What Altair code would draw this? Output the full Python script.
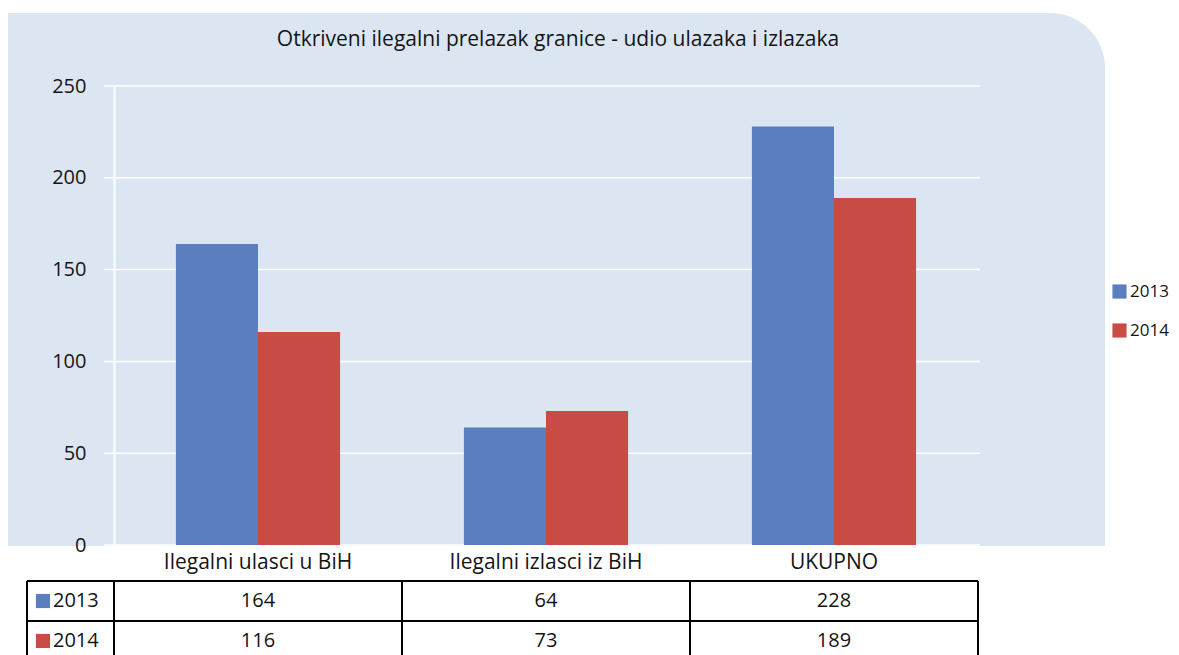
import altair as alt
import pandas as pd

# ---------------- data ----------------
categories = ["Ilegalni ulasci u BiH", "Ilegalni izlasci iz BiH", "UKUPNO"]
years = ["2013", "2014"]
values_2013 = [164, 64, 228]
values_2014 = [116, 73, 189]
y_ticks = [0, 50, 100, 150, 200, 250]
title_text = "Otkriveni ilegalni prelazak granice - udio ulazaka i izlazaka"

# ---------------- layout / style ----------------
W, H = 864, 459
STEP = W / 3
FONT = "Open Sans"
FS = 20
TXT = "#151515"
BLUE, RED = "#5A7EBE", "#C84B45"
PANEL = "#DCE6F2"
T_TOP, T_MID, T_BOT = 495, 535, 575
T_LEFT = -87

rows = []
for yr, vals in zip(years, [values_2013, values_2014]):
    for c, v in zip(categories, vals):
        rows.append({"cat": c, "year": yr, "value": v})
df = pd.DataFrame(rows)

x_scale = alt.Scale(domain=categories, paddingInner=0.43, paddingOuter=0.215)
y_scale = alt.Scale(domain=[0, 250], nice=False, zero=True)
color_scale = alt.Scale(domain=years, range=[BLUE, RED])
row_scale = alt.Scale(type="band", domain=years, range=[T_TOP, T_BOT],
                      paddingInner=0, paddingOuter=0)

one = pd.DataFrame({"d": [0]})

panel = alt.Chart(one).mark_rect(color=PANEL, cornerRadiusTopRight=55).encode(
    x=alt.value(-106), x2=alt.value(991), y=alt.value(-73), y2=alt.value(H + 1)
)

grid = alt.Chart(pd.DataFrame({"t": y_ticks})).mark_rule(color="white", strokeWidth=1.5).encode(
    y=alt.Y("t:Q", scale=y_scale, axis=None),
    x=alt.value(-10), x2=alt.value(W + 2),
)

x_axis = alt.Axis(title=None, domain=False, ticks=False, labelAngle=0, labelLimit=0,
                  labelPadding=6, labelFontSize=21, labelFont=FONT, labelColor=TXT)

bars = alt.Chart(df).mark_bar().encode(
    x=alt.X("cat:N", scale=x_scale, sort=categories, axis=x_axis),
    xOffset=alt.XOffset("year:N", sort=years,
                        scale=alt.Scale(domain=years, paddingInner=0, paddingOuter=0)),
    y=alt.Y("value:Q", scale=y_scale,
            axis=alt.Axis(title=None, values=y_ticks, grid=False, ticks=False,
                          domainColor="white", domainWidth=2, labelPadding=28,
                          labelFontSize=FS, labelFont=FONT, labelColor=TXT, zindex=1)),
    color=alt.Color("year:N", scale=color_scale,
                    legend=alt.Legend(title=None, orient="none", legendX=997, legendY=197,
                                      symbolType="square", symbolSize=200,
                                      symbolStrokeWidth=0, symbolOpacity=1,
                                      labelFontSize=17, labelFont=FONT, labelColor=TXT,
                                      labelOffset=2, labelLimit=0, rowPadding=21)),
)

title_mark = alt.Chart(pd.DataFrame({"t": [title_text]})).mark_text(
    font=FONT, fontSize=21, color=TXT, align="center", baseline="middle"
).encode(text="t:N", x=alt.value(444), y=alt.value(-46))

table_text = alt.Chart(df).mark_text(
    font=FONT, fontSize=FS, color=TXT, align="center", baseline="middle"
).encode(
    x=alt.X("cat:N", scale=x_scale, sort=categories, axis=x_axis),
    y=alt.Y("year:N", scale=row_scale, axis=None),
    text="value:Q",
)

ydf = pd.DataFrame({"year": years})
squares = alt.Chart(ydf).mark_square(size=200, opacity=1).encode(
    x=alt.value(-71),
    y=alt.Y("year:N", scale=row_scale, axis=None),
    color=alt.Color("year:N", scale=color_scale),
)
year_labels = alt.Chart(ydf).mark_text(
    font=FONT, fontSize=FS, color=TXT, align="left", baseline="middle"
).encode(
    x=alt.value(-61),
    y=alt.Y("year:N", scale=row_scale, axis=None),
    text="year:N",
)

rules = []
for yy in [T_TOP, T_MID, T_BOT]:
    rules.append(alt.Chart(one).mark_rule(color="black", strokeWidth=2).encode(
        x=alt.value(T_LEFT), x2=alt.value(W), y=alt.value(yy)))
for xx in [T_LEFT, 0, STEP, 2 * STEP, W]:
    rules.append(alt.Chart(one).mark_rule(color="black", strokeWidth=2).encode(
        x=alt.value(xx), y=alt.value(T_TOP), y2=alt.value(T_BOT)))

chart = alt.layer(panel, grid, bars, title_mark, table_text, squares, year_labels, *rules).resolve_scale(
    y="independent"
).properties(
    width=W, height=H,
    padding={"left": 106, "top": 78, "right": 193, "bottom": 112},
    autosize=alt.AutoSizeParams(type="none"),
).configure_view(stroke=None)

chart.save("out.html", embed_options={"renderer": "svg", "actions": False})
